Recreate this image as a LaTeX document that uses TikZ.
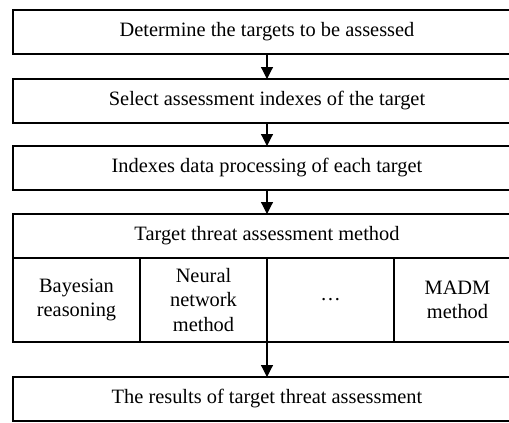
\documentclass[tikz,border=0pt]{standalone}
\usepackage{fontspec}
\setmainfont{Liberation Serif}
\usepackage{tikz}
\usetikzlibrary{positioning}
\usetikzlibrary{arrows.meta}

\begin{document}
\begin{tikzpicture}[x=1pt,y=1pt,
		box/.style = {draw,rectangle,line width=1.3pt,inner sep=0pt,outer sep=0pt,minimum width = 508pt,minimum height = 44pt,font=\fontsize{20.4}{24.5}\selectfont},
		sub/.style = {draw,rectangle,line width=1.3pt,inner sep=0pt,outer sep=0pt,minimum width = 127pt,minimum height = 84pt,align=center,font=\fontsize{20.4}{24.5}\selectfont},
		arr/.style = {line width=1.2pt,-{Triangle[width=12pt,length=12pt]}}]
		\useasboundingbox (0,0) rectangle (509,-423);

		\node[box] at (267,-32) (det) {Determine the targets to be assessed};
		\node[box, below = 25pt of det] (sel) {Select assessment indexes of the target};
		\node[box, below = 23pt of sel] (proc) {Indexes data processing of each target};
		\node[box, below = 24pt of proc] (meth) {Target threat assessment method};

		\node[sub, anchor = north west] at (meth.south west) (bay) {Bayesian\\reasoning};
		\node[sub, right = 0pt of bay] (nn) {Neural\\network\\method};
		\node[sub, right = 0pt of nn] (dots) {…};
		\node[sub, right = 0pt of dots] (madm) {MADM\\method};

		\node[box, below = 35pt of meth.south |- bay.south] (res) {The results of target threat assessment};

		\draw[arr] (det) to (sel);
		\draw[arr] (sel) to (proc);
		\draw[arr] (proc) to (meth);
		\draw[arr] (nn.south east) to (res.north);
	\end{tikzpicture}
\end{document}
